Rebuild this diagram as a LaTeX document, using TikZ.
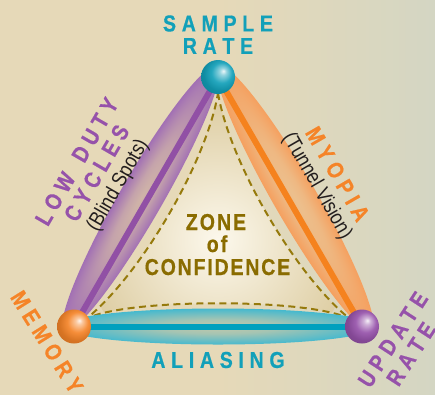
\documentclass[tikz,border=0pt]{standalone}
\usepackage{fontspec}
\setmainfont{Liberation Sans}
\newfontfamily\lab{Liberation Sans}[FakeStretch=0.85, BoldFeatures={FakeBold=0.6}]
\newfontfamily\sublab{Liberation Sans}[FakeStretch=0.85]
\definecolor{bgl}{RGB}{230,217,184}
\definecolor{bgr}{RGB}{212,214,195}
\definecolor{tcyan}{RGB}{18,160,185}
\definecolor{tpurp}{RGB}{150,82,170}
\definecolor{torange}{RGB}{245,132,40}
\definecolor{tolive}{RGB}{138,108,0}
\definecolor{dolive}{RGB}{150,122,12}
\definecolor{zonein}{RGB}{252,248,236}
\definecolor{zoneout}{RGB}{222,206,164}
\definecolor{purpin}{RGB}{208,180,168}
\definecolor{purpout}{RGB}{162,112,180}
\definecolor{orin}{RGB}{236,192,142}
\definecolor{orout}{RGB}{245,160,95}
\definecolor{cyin}{RGB}{196,200,170}
\definecolor{cyout}{RGB}{70,185,206}
\definecolor{lpurp}{RGB}{145,80,165}
\definecolor{lorange}{RGB}{245,130,30}
\definecolor{lcyan}{RGB}{0,160,190}
\makeatletter
\def\spaced#1#2{\def\sp@gap{\kern#1}\sp@loop#2\@nil}
\def\sp@loop#1#2\@nil{#1\ifx\relax#2\relax\else\sp@gap\sp@loop#2\@nil\fi}
\pgfdeclareradialshading[tikz@ball]{myball}{\pgfqpoint{8bp}{9bp}}{%
 color(0bp)=(tikz@ball!8!white); color(5bp)=(tikz@ball!45!white);
 color(15bp)=(tikz@ball!92!white); color(25bp)=(tikz@ball!88!black);
 color(50bp)=(tikz@ball!70!black)}
\makeatother
\pgfdeclarehorizontalshading{bgshade}{100bp}{color(0bp)=(bgl); color(25bp)=(bgl);
 color(50bp)=(bgl); color(75bp)=(bgr); color(100bp)=(bgr)}
\pgfdeclareradialshading{purpglow}{\pgfpointorigin}{color(0bp)=(purpin);
 color(10bp)=(purpin!75!purpout); color(25bp)=(purpout); color(50bp)=(purpout)}
\pgfdeclareradialshading{orglow}{\pgfpointorigin}{color(0bp)=(orin);
 color(10bp)=(orin!75!orout); color(25bp)=(orout); color(50bp)=(orout)}
\pgfdeclareradialshading{cyglow}{\pgfpointorigin}{color(0bp)=(cyin);
 color(10bp)=(cyin!75!cyout); color(25bp)=(cyout); color(50bp)=(cyout)}
\tikzset{
  lbl/.style={font=\lab\bfseries\fontsize{23}{25}\selectfont, inner sep=0pt},
  sublbl/.style={font=\sublab\fontsize{21}{23}\selectfont, inner sep=0pt, text={rgb,255:red,35;green,30;blue,30}},
  zonelbl/.style={font=\lab\bfseries\fontsize{23}{25}\selectfont, inner sep=0pt, text=tolive, anchor=base},
  ballnode/.style={circle, minimum size=34pt, inner sep=0pt, ball color=#1, shading=myball},
  edgeline/.style={line width=6pt, draw=#1},
  zonedash/.style={draw=dolive, line width=2pt, dash pattern=on 7pt off 4.5pt},
}
\begin{document}
\begin{tikzpicture}[x=1pt,y=-1pt]
\useasboundingbox (0,0) rectangle (435,394);
\shade[shading=bgshade] (0,0) rectangle (435,394);
% zone of confidence
\begin{scope}
\clip (218,93) .. controls (229.4,162.1) and (295.4,275.1) .. (350,319)
  .. controls (311,298) and (125,298) .. (86,319)
  .. controls (140.7,275) and (206.7,162) .. cycle;
\shade[inner color=zonein, outer color=zoneout] (218,240) circle (135);
\end{scope}
\draw[zonedash] (218,93) .. controls (229.4,162.1) and (295.4,275.1) .. (350,319)
  .. controls (311,298) and (125,298) .. (86,319)
  .. controls (140.7,275) and (206.7,162) .. cycle;
% glow ellipses
\begin{scope}[transform canvas={shift={(146,201.5)}, rotate=60}]
  \shade[shading=purpglow] (0,-6) ellipse (152 and 21.5);
\end{scope}
\begin{scope}[transform canvas={shift={(290,201.5)}, rotate=-60}]
  \shade[shading=orglow] (0,-6) ellipse (152 and 21.5);
\end{scope}
\begin{scope}[transform canvas={shift={(218,326.5)}}]
  \shade[shading=cyglow] (0,0) ellipse (158 and 18);
\end{scope}
% vertices
\coordinate (top) at (218,77);
\coordinate (mem) at (74,326.5);
\coordinate (upd) at (362,326.5);
\draw[edgeline=lpurp] (mem) -- (top);
\draw[edgeline=lorange] (top) -- (upd);
\draw[edgeline=lcyan] (mem) -- (upd);
\node[ballnode=tcyan] (topball) at (top) {};
\node[ballnode=torange] (memball) at (mem) {};
\node[ballnode=tpurp] (updball) at (upd) {};
% labels
\node[lbl, text=tcyan] (sr1) at (218,23.5) {\spaced{5.7pt}{SAMPLE}};
\node[lbl, text=tcyan] (sr2) at (218,46) {\spaced{5.7pt}{RATE}};
\node[lbl, text=tcyan] (al) at (218,360) {\spaced{5.7pt}{ALIASING}};
\node[lbl, text=tpurp, rotate=60] (ld) at (76.7,161.5) {\spaced{5.5pt}{LOW~DUTY}};
\node[lbl, text=tpurp, rotate=60] (cy) at (96.6,173) {\spaced{5.5pt}{CYCLES}};
\node[sublbl, rotate=60] (bs) at (118.3,185.5) {(Blind Spots)};
\node[lbl, text=torange, rotate=-60] (my) at (337.6,174) {\spaced{5.5pt}{MYOPIA}};
\node[sublbl, rotate=-60] (tv) at (316.8,186) {(Tunnel Vision)};
\node[lbl, text=torange, rotate=-58] (me) at (47,342) {\spaced{5.5pt}{MEMORY}};
\node[lbl, text=tpurp, rotate=57] (up) at (393,339.5) {\spaced{5.5pt}{UPDATE}};
\node[lbl, text=tpurp, rotate=57] (ra) at (411,354) {\spaced{5.5pt}{RATE}};
\node[zonelbl] (z1) at (216,230) {\spaced{2pt}{ZONE}};
\node[zonelbl] (z2) at (217,252) {\spaced{2pt}{of}};
\node[zonelbl] (z3) at (217.5,275) {\spaced{1.8pt}{CONFIDENCE}};
\end{tikzpicture}
\end{document}
